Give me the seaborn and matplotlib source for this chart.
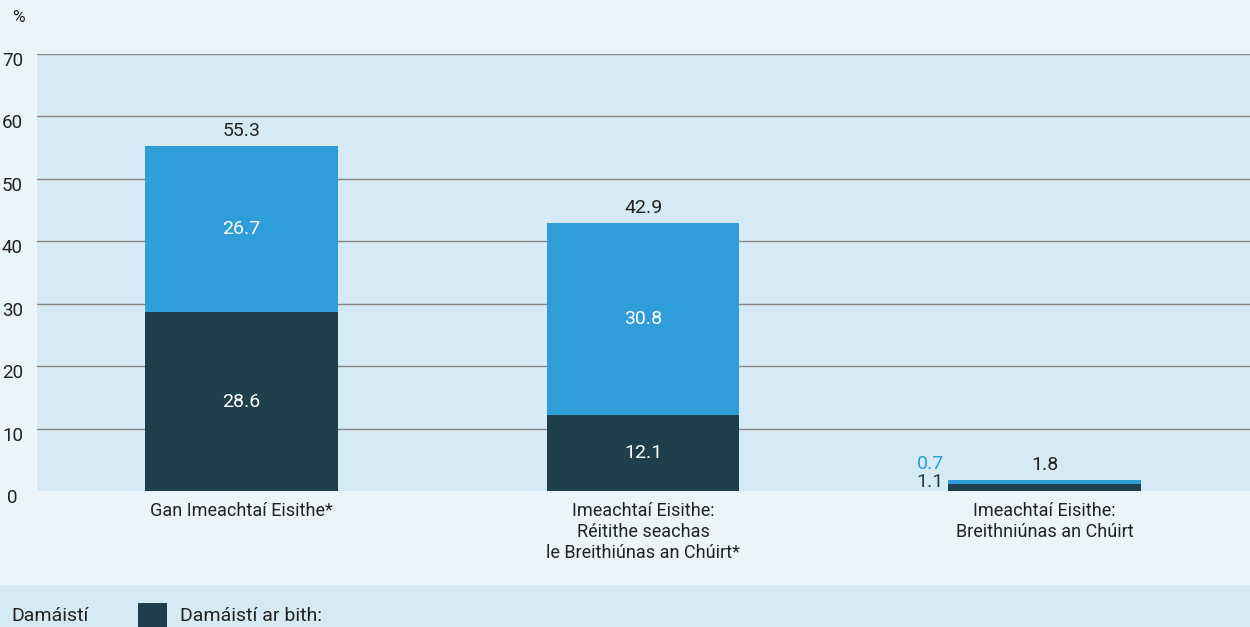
import numpy as np
import pandas as pd
import matplotlib
matplotlib.use("Agg")
import matplotlib.pyplot as plt
import matplotlib.transforms as mtrans
from matplotlib.patches import Rectangle
import seaborn as sns

categories = ["Gan Imeachtaí Eisithe*",
              "Imeachtaí Eisithe:\nRéitithe seachas\nle Breithiúnas an Chúirt*",
              "Imeachtaí Eisithe:\nBreithniúnas an Chúirt"]
dark_vals = [28.6, 12.1, 1.1]
blue_vals = [26.7, 30.8, 0.7]
totals = [55.3, 42.9, 1.8]
yticks = [0, 10, 20, 30, 40, 50, 60, 70]
legend_title = "Damáistí"
legend_item = "Damáistí ar bith:"

DARK = "#203f4c"
BLUE = "#2e9dd8"
OUTER_BG = "#e9f4fb"
PLOT_BG = "#d6eaf6"
TXT = "#222222"

sns.set_theme(style="white")
plt.rcParams["font.family"] = ["Roboto", "DejaVu Sans"]

fig = plt.figure(figsize=(12.5, 6.27), dpi=100)
fig.patch.set_facecolor(OUTER_BG)
ax = fig.add_axes([37 / 1250, 1 - 491 / 627, 1 - 37 / 1250, (491 - 54) / 627])
ax.set_facecolor(PLOT_BG)

df = pd.DataFrame({"cat": categories, "dark": dark_vals, "blue": blue_vals, "total": totals})

sns.barplot(data=df, x="cat", y="total", color=BLUE, width=0.48, ax=ax,
            saturation=1, zorder=3, edgecolor="none")
sns.barplot(data=df, x="cat", y="dark", color=DARK, width=0.48, ax=ax,
            saturation=1, zorder=4, edgecolor="none")

ax.set_xlim(-0.51, 2.512)
ax.set_ylim(0, 70)
ax.set_yticks(yticks)
ax.set_yticklabels([str(t) for t in yticks])
ax.set_xlabel("")
ax.set_ylabel("")
for s in ax.spines.values():
    s.set_visible(False)

for t in yticks[1:]:
    ax.axhline(t, color="#858585", lw=1.0, zorder=2)

ax.tick_params(axis="y", length=0, pad=17.6, labelsize=13.5, labelcolor=TXT)
ax.tick_params(axis="x", length=0, pad=8, labelsize=13, labelcolor=TXT)
offset = mtrans.ScaledTranslation(0, -5 / 100, fig.dpi_scale_trans)
for lab in ax.get_yticklabels():
    lab.set_horizontalalignment("center")
    lab.set_transform(lab.get_transform() + offset)
for lab in ax.get_xticklabels():
    lab.set_linespacing(1.2)
    lab.set_verticalalignment("top")

# value labels
for i in range(2):
    ax.text(i, dark_vals[i] / 2, f"{dark_vals[i]:.1f}", color="white",
            ha="center", va="center", fontsize=14, zorder=5)
    ax.text(i, dark_vals[i] + blue_vals[i] / 2, f"{blue_vals[i]:.1f}", color="white",
            ha="center", va="center", fontsize=14, zorder=5)
for i in range(3):
    ax.annotate(f"{totals[i]:.1f}", (i, totals[i]), xytext=(0, 4.5), textcoords="offset points",
                ha="center", va="bottom", fontsize=14, color=TXT, zorder=5)

# small bar side labels
ax.annotate(f"{dark_vals[2]:.1f}", (2 - 0.24, dark_vals[2] / 2), xytext=(-3, 4),
            textcoords="offset points", ha="right", va="center", fontsize=14, color=DARK)
ax.annotate(f"{blue_vals[2]:.1f}", (2 - 0.24, dark_vals[2] + blue_vals[2] / 2), xytext=(-3, 13),
            textcoords="offset points", ha="right", va="center", fontsize=14, color=BLUE)

fig.text(12 / 1250, 1 - 18 / 627, "%", fontsize=12.5, color=TXT, ha="left", va="center")

# bottom legend band
fig.patches.append(Rectangle((0, 0), 1, 42 / 627, transform=fig.transFigure,
                             facecolor=PLOT_BG, edgecolor="none", zorder=0))
fig.text(11 / 1250, 1 - 616 / 627, legend_title, fontsize=14, color=TXT, ha="left", va="center")
fig.patches.append(Rectangle((138 / 1250, -0.02), 29 / 1250, 24 / 627 + 0.02,
                             transform=fig.transFigure, facecolor=DARK, edgecolor="none", zorder=1))
fig.text(180 / 1250, 1 - 616 / 627, legend_item, fontsize=14, color=TXT, ha="left", va="center")

fig.savefig("out.png", dpi=100, facecolor=OUTER_BG)
